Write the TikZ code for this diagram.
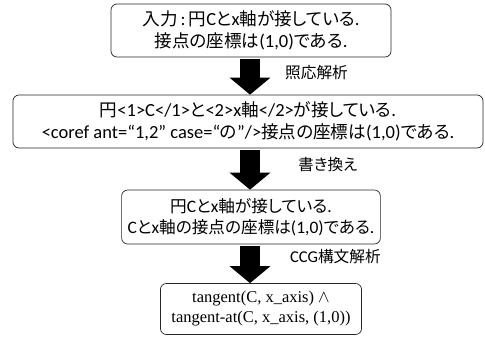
\documentclass[tikz,border=0pt]{standalone}
\usepackage{fontspec}
\setmainfont{Carlito}
\newfontfamily\cjk[Scale=0.95,RawFeature=+palt]{Noto Sans CJK JP}
\newfontfamily\tms{Liberation Serif}
\newcommand{\J}[1]{{\cjk #1}}
\usetikzlibrary{arrows.meta}
\begin{document}
\begin{tikzpicture}[x=1pt,y=-1pt,
  box/.style={draw=black!85, rounded corners=6pt, line width=0.7pt, align=center, inner sep=0pt,
    font=\fontsize{18.5}{21.5}\selectfont},
  lbl/.style={anchor=west, inner sep=0pt, font=\fontsize{16.5}{20}\selectfont},
  fat/.style={line width=20pt, -{Triangle[width=40pt,length=17pt]}, shorten >=0pt}]
\useasboundingbox (0,0) rectangle (485,338);
\node[box, minimum width=280pt, minimum height=53pt] (b1) at (251,30.5)
  {\J{入力}\,:\,\J{円}C\J{と}x\J{軸が接している}.\\\J{接点の座標は}(1,0)\J{である}.};
\node[box, minimum width=470pt, minimum height=53pt] (b2) at (248,121.5)
  {\J{円}<1>C</1>\J{と}<2>x\J{軸}</2>\J{が接している}.\\<coref ant=“1,2” case=“\J{の}”/>\J{接点の座標は}(1,0)\J{である}.};
\node[box, inner xsep=6pt, minimum height=54pt, font=\fontsize{17.5}{21}\selectfont] (b3) at (251,217)
  {\J{円}C\J{と}x\J{軸が接している}.\\C\J{と}x\J{軸の接点の座標は}(1,0)\J{である}.};
\node[box, inner xsep=11pt, minimum height=51pt, font=\tms\fontsize{16.5}{20}\selectfont] (b4) at (261,309)
  {tangent(C, x\_axis) $\wedge$\\tangent-at(C, x\_axis, (1,0))};
\coordinate (c1) at (250,59);
\coordinate (c2) at (250,150);
\coordinate (c3) at (250,246);
\draw[fat] (c1) -- (b2.north -| c1);
\draw[fat] (c2) -- (b3.north -| c2);
\draw[fat] (c3) -- (b4.north -| c3);
\node[lbl] (l1) at (285,73) {\J{照応解析}};
\node[lbl] (l2) at (298,165) {\J{書き換え}};
\node[lbl] (l3) at (290,257) {CCG\J{構文解析}};
\end{tikzpicture}
\end{document}
